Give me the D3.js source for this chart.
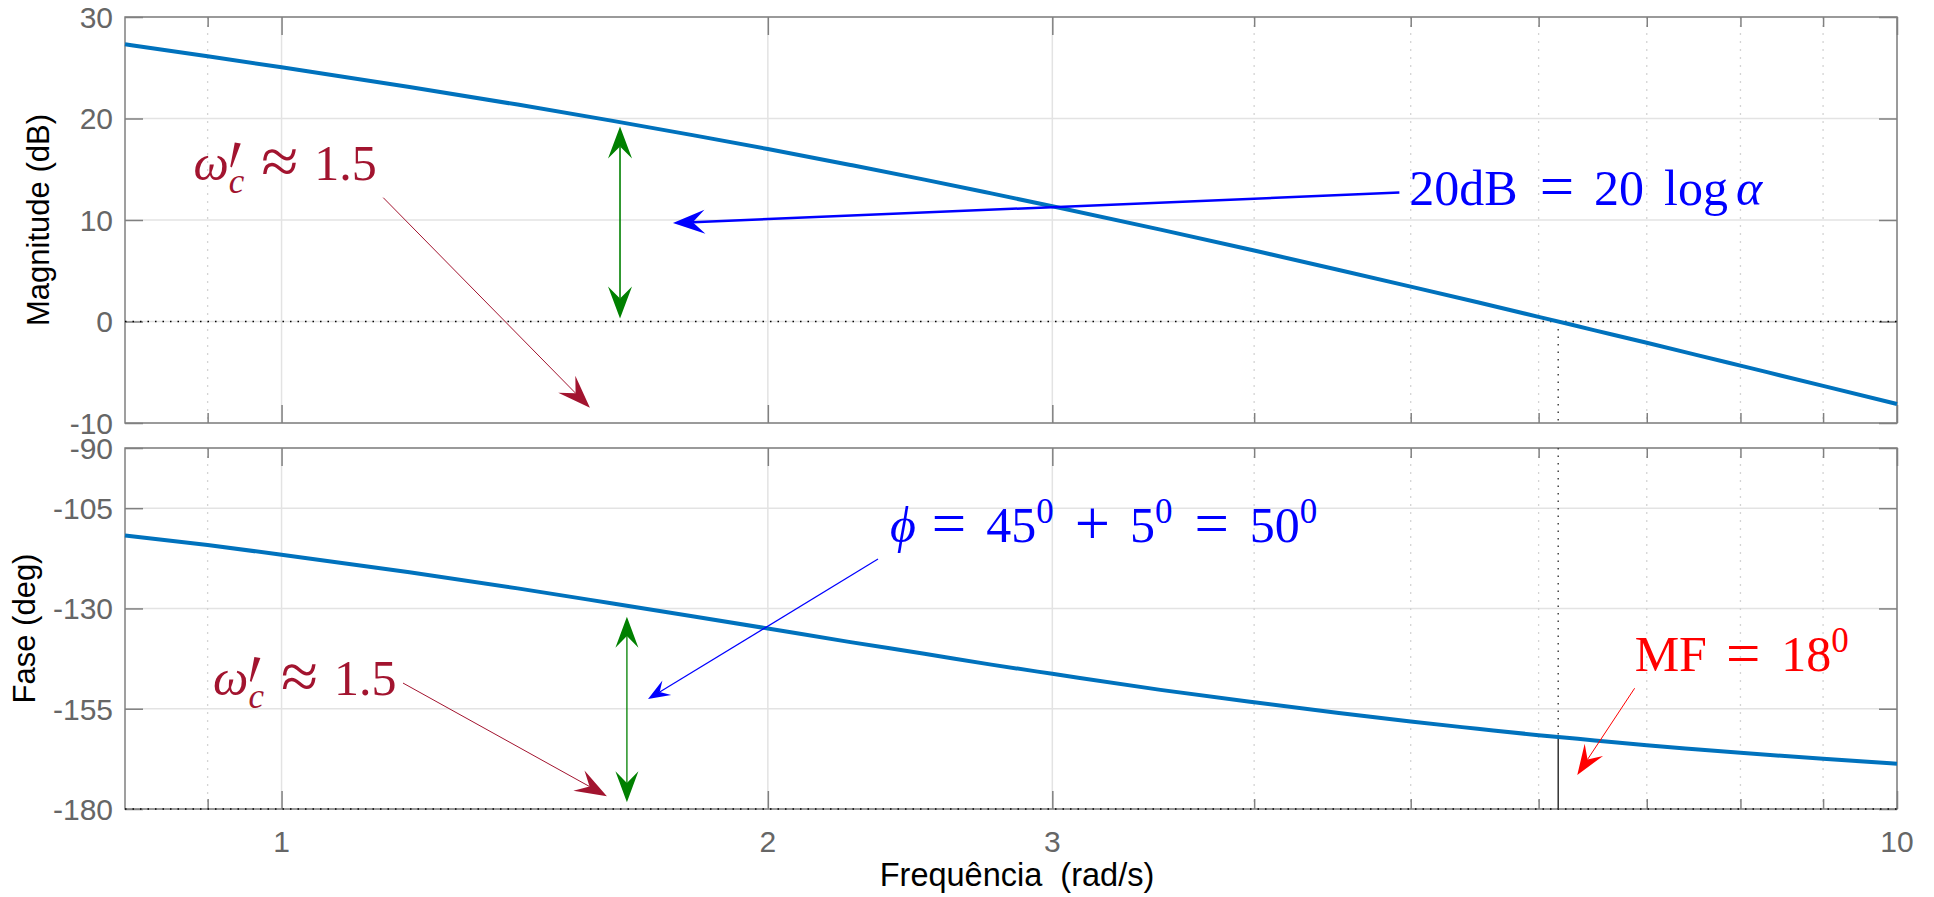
<!DOCTYPE html>
<html lang="pt">
<head>
<meta charset="UTF-8">
<title>Bode - margem de fase</title>
<script src="https://cdnjs.cloudflare.com/ajax/libs/d3/7.9.0/d3.min.js"></script>
<style>
  body { margin: 0; background: #fff; overflow: hidden; }
  svg { display: block; font-family: 'Liberation Sans', Arial, Helvetica, sans-serif; }
  .tick-label { fill: #666; font-size: 30px; }
  .axis-label { fill: #000; font-size: 31px; white-space: pre; }
  .math { font-family: 'Liberation Serif', 'DejaVu Serif', serif; }
</style>
</head>
<body>
<div id="root"></div>
<script>
// values
const freq = [0.8, 0.9, 1, 1.2, 1.4, 1.6, 1.8, 2, 2.25, 2.5, 2.75, 3, 3.5, 4, 4.5, 5, 5.5, 6, 6.5, 7, 7.5, 8, 9, 10]
const magDb = [27.31, 26.13, 25.05, 23.10, 21.37, 19.79, 18.34, 16.99, 15.42, 13.98, 12.62, 11.36, 9.05, 6.99, 5.13, 3.44, 1.89, 0.46, -0.87, -2.10, -3.26, -4.35, -6.34, -8.13]
const phaseDeg = [-111.8, -114.2, -116.6, -121.0, -125.0, -128.7, -132.0, -135.0, -138.4, -141.3, -144.0, -146.3, -150.3, -153.4, -156.0, -158.2, -160.0, -161.6, -162.9, -164.1, -165.1, -166.0, -167.5, -168.7]

const xTicks = [1, 2, 3, 10]
const xMinorTicks = [0.9, 4, 5, 6, 7, 8, 9]
const magTicks = [-10, 0, 10, 20, 30]
const phaseTicks = [-180, -155, -130, -105, -90]

// gain crossover / phase margin
const wGc = 6.17
const phaseAtGc = -161.9

// annotation anchors (frequency, value) in their own panel
const magWcText = [0.882, 13.9]
const magWcArrow = [[1.156, 12.2], [1.552, -8.5]]
const magGainArrow = [[1.62, 0.3], [1.62, 19.2]]
const magAlphaText = [4.99, 11.5]
const magAlphaArrow = [[4.92, 12.7], [1.747, 9.7]]
const phPhiText = [2.38, -113.4]
const phPhiArrow = [[2.34, -117.7], [1.686, -152.6]]
const phPhaseArrow = [[1.636, -178.3], [1.636, -132.1]]
const phWcText = [0.907, -151.6]
const phWcArrow = [[1.189, -148.6], [1.59, -176.8]]
const phMfText = [6.88, -145.6]
const phMfArrow = [[6.88, -149.9], [6.34, -171.5]]

const w = 1934, h = 897
const left = 125, right = 1897
const magTop = 17, magBottom = 423
const phTop = 448, phBottom = 809

const darkRed = '#A2142F'

const svg = d3.select('#root').append('svg')
  .attr('width', w).attr('height', h)

// Scales
const x = d3.scaleLog().domain([0.8, 10]).range([left, right])
const yMag = d3.scaleLinear().domain([-10, 30]).range([magBottom, magTop])
const yPh = d3.scaleLinear().domain([-180, -90]).range([phBottom, phTop])

function panel(y, yTicks, top, bottom) {
  const g = svg.append('g')
  // grid
  g.selectAll('.hgrid').data(yTicks).enter().append('line')
    .attr('x1', left).attr('x2', right)
    .attr('y1', d => y(d)).attr('y2', d => y(d))
    .attr('stroke', '#e3e3e3').attr('stroke-width', 1.5)
  g.selectAll('.vgrid').data(xTicks).enter().append('line')
    .attr('x1', d => x(d)).attr('x2', d => x(d))
    .attr('y1', top).attr('y2', bottom)
    .attr('stroke', '#e3e3e3').attr('stroke-width', 1.5)
  g.selectAll('.vminor').data(xMinorTicks).enter().append('line')
    .attr('x1', d => x(d)).attr('x2', d => x(d))
    .attr('y1', top).attr('y2', bottom)
    .attr('stroke', '#d4d4d4').attr('stroke-width', 1.3)
    .attr('stroke-dasharray', '2,6')

  // axes: d3 axes with inward ticks, left/right/top/bottom
  const axStyle = sel => {
    sel.select('.domain').remove()
    sel.selectAll('.tick line').attr('stroke', '#808080').attr('stroke-width', 1.5)
    sel.selectAll('.tick text').remove()
  }
  g.append('g').attr('transform', `translate(${left},0)`)
    .call(d3.axisRight(y).tickValues(yTicks).tickSize(18)).call(axStyle)
  g.append('g').attr('transform', `translate(${right},0)`)
    .call(d3.axisLeft(y).tickValues(yTicks).tickSize(18)).call(axStyle)
  g.append('g').attr('transform', `translate(0,${bottom})`)
    .call(d3.axisTop(x).tickValues(xTicks).tickSize(18)).call(axStyle)
  g.append('g').attr('transform', `translate(0,${top})`)
    .call(d3.axisBottom(x).tickValues(xTicks).tickSize(18)).call(axStyle)
  g.append('g').attr('transform', `translate(0,${bottom})`)
    .call(d3.axisTop(x).tickValues(xMinorTicks).tickSize(10)).call(axStyle)
  g.append('g').attr('transform', `translate(0,${top})`)
    .call(d3.axisBottom(x).tickValues(xMinorTicks).tickSize(10)).call(axStyle)

  g.append('rect')
    .attr('x', left).attr('y', top)
    .attr('width', right - left).attr('height', bottom - top)
    .attr('fill', 'none').attr('stroke', '#808080').attr('stroke-width', 1.5)

  // y tick labels
  g.selectAll('.ylab').data(yTicks).enter().append('text')
    .attr('class', 'tick-label')
    .attr('x', left - 12).attr('y', d => y(d))
    .attr('dy', '0.36em')
    .attr('text-anchor', 'end')
    .text(d => d)
  return g
}

const magG = panel(yMag, magTicks, magTop, magBottom)
const phG = panel(yPh, phaseTicks, phTop, phBottom)

// x tick labels (bottom only)
svg.selectAll('.xlab').data(xTicks).enter().append('text')
  .attr('class', 'tick-label')
  .attr('x', d => x(d)).attr('y', phBottom + 43)
  .attr('text-anchor', 'middle')
  .text(d => d)

// axis labels
svg.append('text').attr('class', 'axis-label')
  .attr('transform', `translate(49,${(magTop + magBottom) / 2}) rotate(-90)`)
  .attr('text-anchor', 'middle').text('Magnitude (dB)')
svg.append('text').attr('class', 'axis-label')
  .attr('transform', `translate(35,${(phTop + phBottom) / 2}) rotate(-90)`)
  .attr('text-anchor', 'middle').text('Fase (deg)')
svg.append('text').attr('class', 'axis-label')
  .attr('x', (left + right) / 2 + 6).attr('y', 886)
  .attr('text-anchor', 'middle').style('font-size', '32.5px')
  .text('Frequência  (rad/s)')

// margin lines
const dotted = (g, x1, y1, x2, y2, col) => g.append('line')
  .attr('x1', x1).attr('y1', y1).attr('x2', x2).attr('y2', y2)
  .attr('stroke', col).attr('stroke-width', 1.5).attr('stroke-dasharray', '1.5,6')

dotted(magG, left, yMag(0), right, yMag(0), '#000')
dotted(magG, x(wGc), yMag(0), x(wGc), magBottom, '#444')
dotted(phG, left, yPh(-180), right, yPh(-180), '#000')
dotted(phG, x(wGc), phTop, x(wGc), yPh(phaseAtGc), '#444')
phG.append('line')
  .attr('x1', x(wGc)).attr('x2', x(wGc))
  .attr('y1', yPh(phaseAtGc)).attr('y2', phBottom)
  .attr('stroke', '#333').attr('stroke-width', 1.5)

// curves
const magLine = d3.line().x((d, i) => x(freq[i])).y(d => yMag(d)).curve(d3.curveMonotoneX)
const phLine = d3.line().x((d, i) => x(freq[i])).y(d => yPh(d)).curve(d3.curveMonotoneX)
magG.append('path').datum(magDb).attr('d', magLine)
  .attr('fill', 'none').attr('stroke', '#0072BD').attr('stroke-width', 4)
phG.append('path').datum(phaseDeg).attr('d', phLine)
  .attr('fill', 'none').attr('stroke', '#0072BD').attr('stroke-width', 4)

// arrows (matlab vback2 style heads)
function arrow(g, p0, p1, color, lw, L, wd, both) {
  const dx = p1[0] - p0[0], dy = p1[1] - p0[1], len = Math.hypot(dx, dy)
  const ux = dx / len, uy = dy / len
  const head = (tip, ux, uy) => {
    const nx = -uy, ny = ux
    const bx = tip[0] - ux * L, by = tip[1] - uy * L
    const mx = tip[0] - ux * L * 0.62, my = tip[1] - uy * L * 0.62
    g.append('path')
      .attr('d', `M${tip[0]},${tip[1]}L${bx + nx * wd / 2},${by + ny * wd / 2}L${mx},${my}L${bx - nx * wd / 2},${by - ny * wd / 2}Z`)
      .attr('fill', color)
    return [mx, my]
  }
  const end = head(p1, ux, uy)
  const start = both ? head(p0, -ux, -uy) : p0
  g.append('line')
    .attr('x1', start[0]).attr('y1', start[1]).attr('x2', end[0]).attr('y2', end[1])
    .attr('stroke', color).attr('stroke-width', lw)
}

const pm = (p) => [x(p[0]), yMag(p[1])]
const pp = (p) => [x(p[0]), yPh(p[1])]

arrow(magG, pm(magWcArrow[0]), pm(magWcArrow[1]), darkRed, 1, 33, 24)
arrow(magG, pm(magGainArrow[0]), pm(magGainArrow[1]), '#008000', 1.6, 32, 24, true)
arrow(magG, pm(magAlphaArrow[0]), pm(magAlphaArrow[1]), '#0000FF', 2.5, 32, 24)
arrow(phG, pp(phPhiArrow[0]), pp(phPhiArrow[1]), '#0000FF', 1.2, 22, 17)
arrow(phG, pp(phPhaseArrow[0]), pp(phPhaseArrow[1]), '#008000', 1.3, 31, 23, true)
arrow(phG, pp(phWcArrow[0]), pp(phWcArrow[1]), darkRed, 1, 32, 23)
arrow(phG, pp(phMfArrow[0]), pp(phMfArrow[1]), '#FF0000', 1, 30, 22)

// latex-ish labels: one text, pieces placed one after another as tspans.
// a piece with prime:1 gets a prime stroke drawn above it (same x)
function mathText(g, pos, parts, size, color) {
  const t = g.append('text').attr('class', 'math').attr('fill', color)
  let cx = pos[0]
  parts.forEach(p => {
    if (p.gap) { cx += p.gap * size; return }
    if (p.prime) {
      const s = size / 50, px = cx, py = pos[1]
      g.append('path')
        .attr('d', `M${px + 6 * s},${py - 38 * s}L${px + 12 * s},${py - 37 * s}L${px + 3 * s},${py - 13 * s}L${px + 1.5 * s},${py - 14 * s}Z`)
        .attr('fill', color)
    }
    const ts = t.append('tspan')
      .attr('x', cx).attr('y', pos[1] + (p.dy || 0) * size)
      .attr('font-size', size * (p.sc || 1))
      .attr('font-style', p.it ? 'italic' : 'normal')
      .text(p.s)
    cx += ts.node().getComputedTextLength()
  })
}

const sup0 = { s: '0', sc: 0.7, dy: -0.38 }
const eq = { s: '=', sc: 1.22, dy: 0.05 }
const plus = { s: '+', sc: 1.25, dy: 0.07 }
const wcParts = [{ s: 'ω', it: 1 }, { s: 'c', it: 1, sc: 0.7, dy: 0.25, prime: 1 },
  { gap: 0.34 }, { s: '≈', sc: 1.35, dy: 0.07 }, { gap: 0.32 }, { s: '1.5' }]

mathText(magG, pm(magWcText), wcParts, 50, darkRed)
mathText(phG, pp(phWcText), wcParts, 50, darkRed)
mathText(magG, pm(magAlphaText), [{ s: '20dB' }, { gap: 0.44 }, eq, { gap: 0.4 }, { s: '20' },
  { gap: 0.4 }, { s: 'log' }, { gap: 0.16 }, { s: 'α', it: 1 }], 50, '#0000FF')
mathText(phG, pp(phPhiText), [{ s: 'ϕ', it: 1 }, { gap: 0.32 }, eq, { gap: 0.4 }, { s: '45' }, sup0,
  { gap: 0.42 }, plus, { gap: 0.4 }, { s: '5' }, sup0, { gap: 0.44 }, eq, { gap: 0.42 },
  { s: '50' }, sup0], 50, '#0000FF')
mathText(phG, pp(phMfText), [{ s: 'MF' }, { gap: 0.38 }, eq, { gap: 0.42 }, { s: '18' }, sup0], 50, '#FF0000')
</script>
</body>
</html>
